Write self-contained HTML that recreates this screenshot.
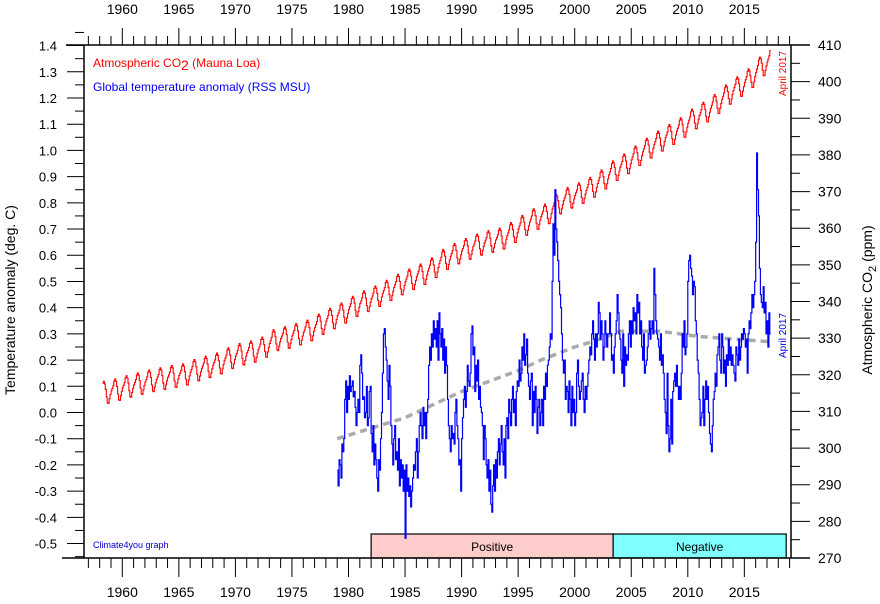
<!DOCTYPE html>
<html><head><meta charset="utf-8"><style>
body{margin:0;background:#fff;}
svg{display:block;font-family:"Liberation Sans",sans-serif;}
</style></head><body>
<svg id="chart" width="880" height="604" viewBox="0 0 880 604" xmlns="http://www.w3.org/2000/svg">
<rect width="880" height="604" fill="#fff"/>
<g id="periods"></g>
<g id="axes"></g>
<g id="series"></g>
<text x="93" y="67" font-size="12" fill="#ff0000">Atmospheric CO<tspan font-size="14" dy="3">2</tspan><tspan dy="-3"> (Mauna Loa)</tspan></text>
<text x="93" y="91" font-size="12" fill="#0000ff">Global temperature anomaly (RSS MSU)</text>
<text x="93" y="548" font-size="9" fill="#0000cc">Climate4you graph</text>
<text transform="translate(786,96) rotate(-90)" font-size="10" fill="#ff0000">April 2017</text>
<text transform="translate(786,358) rotate(-90)" font-size="10" fill="#0000ff">April 2017</text>
<text transform="translate(15,300) rotate(-90)" font-size="14" text-anchor="middle" fill="#000">Temperature anomaly (deg. C)</text>
<text transform="translate(872,300) rotate(-90)" font-size="14" text-anchor="middle" fill="#000">Atmospheric CO<tspan font-size="11" dy="4">2</tspan><tspan dy="-4"> (ppm)</tspan></text>
</svg>
<script>
const co2Years=[1958,1959,1960,1961,1962,1963,1964,1965,1966,1967,1968,1969,1970,1971,1972,1973,1974,1975,1976,1977,1978,1979,1980,1981,1982,1983,1984,1985,1986,1987,1988,1989,1990,1991,1992,1993,1994,1995,1996,1997,1998,1999,2000,2001,2002,2003,2004,2005,2006,2007,2008,2009,2010,2011,2012,2013,2014,2015,2016,2017];
const co2Annual=[315.2,315.97,316.91,317.64,318.45,318.99,319.62,320.04,321.37,322.18,323.05,324.62,325.68,326.32,327.45,329.68,330.18,331.11,332.04,333.83,335.40,336.84,338.75,340.11,341.45,343.05,344.65,346.12,347.42,349.19,351.57,353.12,354.39,355.61,356.45,357.10,358.83,360.82,362.61,363.73,366.70,368.38,369.55,371.14,373.28,375.80,377.52,379.80,381.90,383.79,385.60,387.43,389.90,391.65,393.85,396.52,398.65,400.83,404.24,406.55];
const co2Seasonal=[0.0,0.6,1.3,2.5,3.0,2.3,0.8,-1.3,-3.0,-3.2,-2.0,-0.9];
const tempStartYear=1979;
const tempMonthly=[
-0.22,-0.28,-0.18,-0.20,-0.25,-0.12,-0.15,-0.10,0.05,0.12,0.00,0.10,
0.05,0.14,0.08,0.10,0.12,0.06,0.08,0.02,-0.05,0.00,0.05,0.00,
0.18,0.22,0.15,0.05,0.06,-0.02,0.00,0.10,-0.05,-0.02,0.08,0.10,
-0.08,-0.15,-0.05,-0.20,-0.12,-0.18,-0.25,-0.30,-0.18,-0.22,-0.10,0.00,
0.15,0.30,0.32,0.25,0.20,0.12,0.05,0.18,0.10,-0.05,-0.12,-0.20,
-0.10,-0.05,-0.18,-0.15,-0.22,-0.10,-0.28,-0.18,-0.25,-0.20,-0.30,-0.22,
-0.48,-0.20,-0.30,-0.25,-0.32,-0.28,-0.36,-0.30,-0.25,-0.20,-0.22,-0.15,
-0.10,-0.25,-0.15,-0.05,0.00,-0.05,-0.10,0.02,-0.05,0.00,-0.10,0.00,
0.05,0.18,0.25,0.20,0.30,0.25,0.35,0.28,0.32,0.25,0.35,0.20,
0.38,0.30,0.25,0.32,0.20,0.28,0.15,0.25,0.18,0.05,-0.05,-0.10,
-0.15,-0.05,-0.10,-0.08,-0.12,0.00,0.05,-0.05,-0.10,-0.20,-0.18,-0.30,
-0.10,-0.02,0.05,0.10,0.02,0.08,0.18,0.12,0.10,0.15,0.30,0.33,
0.22,0.25,0.08,0.18,0.12,0.20,0.05,0.10,0.02,0.00,-0.05,-0.18,
-0.05,-0.10,-0.20,-0.25,-0.18,-0.30,-0.22,-0.35,-0.38,-0.28,-0.20,-0.30,
-0.18,-0.25,-0.15,-0.10,-0.20,-0.12,-0.05,-0.15,-0.20,-0.10,-0.25,-0.05,
-0.02,-0.10,0.05,0.00,-0.05,0.05,0.10,0.00,0.05,-0.05,0.08,0.12,
0.10,0.20,0.12,0.15,0.25,0.20,0.30,0.18,0.22,0.28,0.15,0.10,
0.05,0.12,0.15,-0.05,0.08,0.00,0.10,0.05,-0.08,0.02,0.05,-0.05,
0.00,0.05,-0.05,0.10,0.05,0.15,0.10,0.18,0.20,0.25,0.30,0.28,
0.50,0.72,0.60,0.85,0.70,0.65,0.58,0.50,0.45,0.40,0.30,0.20,
0.15,0.20,0.05,0.10,0.08,0.00,0.12,0.05,-0.05,0.10,0.00,0.05,
-0.05,0.00,0.15,0.20,0.10,0.05,0.08,0.12,0.15,0.05,0.00,0.10,
0.05,0.10,0.15,0.20,0.25,0.22,0.30,0.35,0.28,0.20,0.30,0.25,
0.30,0.42,0.38,0.28,0.35,0.30,0.20,0.25,0.35,0.30,0.25,0.30,
0.30,0.38,0.30,0.20,0.22,0.15,0.25,0.30,0.35,0.45,0.38,0.30,
0.28,0.20,0.15,0.30,0.10,0.25,0.18,0.22,0.20,0.30,0.35,0.25,
0.35,0.30,0.40,0.35,0.38,0.30,0.45,0.38,0.42,0.30,0.35,0.25,
0.20,0.30,0.15,0.18,0.20,0.25,0.30,0.35,0.28,0.32,0.35,0.30,
0.55,0.45,0.35,0.30,0.28,0.25,0.20,0.30,0.18,0.22,0.15,0.05,
0.00,-0.08,0.15,-0.05,-0.15,-0.10,0.05,-0.12,0.08,0.12,0.15,0.10,
0.18,0.10,0.05,0.10,0.05,0.15,0.30,0.25,0.35,0.22,0.25,0.30,
0.50,0.58,0.60,0.55,0.52,0.45,0.50,0.48,0.35,0.30,0.20,0.15,
0.05,-0.05,-0.02,0.00,0.10,-0.05,0.05,0.12,0.05,0.10,0.00,-0.08,
-0.12,-0.15,-0.05,0.05,0.08,0.15,0.10,0.22,0.25,0.30,0.20,0.15,
0.30,0.25,0.15,0.20,0.10,0.22,0.18,0.28,0.20,0.25,0.18,0.22,
0.18,0.15,0.12,0.25,0.22,0.18,0.28,0.20,0.25,0.30,0.28,0.32,
0.30,0.25,0.28,0.15,0.30,0.35,0.32,0.38,0.45,0.40,0.45,0.50,
0.65,0.99,0.85,0.75,0.55,0.45,0.42,0.40,0.48,0.38,0.42,0.30,
0.35,0.25,0.38,0.30];
const trendYears=[1979,1985,1990,1995,1997,2000,2002.3,2004,2007.5,2011,2017.3];
const trendValues=[-0.10,-0.02,0.08,0.16,0.20,0.25,0.28,0.31,0.31,0.29,0.27];
const periodNames=["Positive","Negative"];
const periodStart=[1982,2003.4];
const periodEnd=[2003.4,2018.7];
const periodColors=["#ffcccc","#80ffff"];
const yearTicks=[1960,1965,1970,1975,1980,1985,1990,1995,2000,2005,2010,2015];
const tempTicks=[1.4,1.3,1.2,1.1,1.0,0.9,0.8,0.7,0.6,0.5,0.4,0.3,0.2,0.1,0.0,-0.1,-0.2,-0.3,-0.4,-0.5];
const co2Ticks=[410,400,390,380,370,360,350,340,330,320,310,300,290,280,270];

const L=84,R=791,T=45,B=558;
const xs=y=>122.3+(y-1960)*11.31;
const yt=v=>412.5-v*262.1;
const yc=p=>45+(410-p)*3.6643;
const NS="http://www.w3.org/2000/svg";
function mk(tag,attrs,parent){const e=document.createElementNS(NS,tag);for(const k in attrs)e.setAttribute(k,attrs[k]);parent.appendChild(e);return e;}
const ax=document.getElementById('axes'),se=document.getElementById('series'),pe=document.getElementById('periods');

periodNames.forEach((n,i)=>{
  const r=mk('rect',{x:xs(periodStart[i]),y:534,width:xs(periodEnd[i])-xs(periodStart[i]),height:24,fill:periodColors[i],stroke:'#000','stroke-width':1.2},pe);
  
  
  const t=mk('text',{x:(xs(periodStart[i])+xs(periodEnd[i]))/2,y:551,'font-size':12,'text-anchor':'middle',fill:'#000'},pe);
  t.textContent=n;
  
  
});

mk('line',{x1:L,y1:T,x2:L,y2:B,stroke:'#000','stroke-width':1.5},ax);
mk('line',{x1:R,y1:T,x2:R,y2:B,stroke:'#000','stroke-width':1.5},ax);
mk('line',{x1:66,y1:T,x2:810,y2:T,stroke:'#000','stroke-width':1.5},ax);
mk('line',{x1:62,y1:B,x2:810,y2:B,stroke:'#000','stroke-width':1.5},ax);
for(let y=1957;y<=2019;y++){
  const x=xs(y);const maj=y%5===0;
  mk('line',{x1:x,y1:B,x2:x,y2:maj?577:568,stroke:'#000','stroke-width':1},ax);
  mk('line',{x1:x,y1:T,x2:x,y2:maj?28:36,stroke:'#000','stroke-width':1},ax);
}
yearTicks.forEach(y=>{
  const a=mk('text',{x:xs(y),y:597,'font-size':14,'text-anchor':'middle'},ax);a.textContent=y;
  
  
  const b=mk('text',{x:xs(y),y:14,'font-size':14,'text-anchor':'middle'},ax);b.textContent=y;
  
  
});
tempTicks.forEach(v=>{
  mk('line',{x1:67,y1:yt(v),x2:L,y2:yt(v),stroke:'#000','stroke-width':1},ax);
  mk('line',{x1:75,y1:yt(v+0.05),x2:L,y2:yt(v+0.05),stroke:'#000','stroke-width':1},ax);
  const t=mk('text',{x:57,y:yt(v)+5,'font-size':13,'text-anchor':'end'},ax);t.textContent=v.toFixed(1);
  
  
});
mk('line',{x1:75,y1:yt(-0.55),x2:L,y2:yt(-0.55),stroke:'#000','stroke-width':1},ax);
co2Ticks.forEach(v=>{
  mk('line',{x1:R,y1:yc(v),x2:810,y2:yc(v),stroke:'#000','stroke-width':1},ax);
  if(v>270)mk('line',{x1:R,y1:yc(v-5),x2:800,y2:yc(v-5),stroke:'#000','stroke-width':1},ax);
  const t=mk('text',{x:818,y:yc(v)+5,'font-size':14},ax);t.textContent=v;
  
  
});

let d='';
co2Years.forEach((yr,i)=>{
  for(let m=0;m<12;m++){
    const t=yr+m/12;
    if(t<1958.2||t>2017.3)continue;
    const nxt=i<co2Annual.length-1?co2Annual[i+1]:co2Annual[i]+2.2;
    const f=m/12-0.5;
    const base=co2Annual[i]+(f>0?(nxt-co2Annual[i])*f:(i>0?(co2Annual[i]-co2Annual[i-1])*f:0));
    const x=xs(t),y=yc(base+co2Seasonal[m]);
    d+=(d?'L':'M')+x.toFixed(1)+' '+y.toFixed(1)+'H'+(x+11.31/12).toFixed(1);
  }
});
const co2=mk('path',{d:d,fill:'none',stroke:'#ff0000','stroke-width':1.1},se);



let td='';
trendYears.forEach((y,i)=>{td+=(i?'L':'M')+xs(y).toFixed(1)+' '+yt(trendValues[i]).toFixed(1);});
const tr=mk('path',{d:td,fill:'none',stroke:'#aaaaaa','stroke-width':3.5,'stroke-dasharray':'7 5'},se);



let pd='';
tempMonthly.forEach((v,i)=>{
  const x=xs(tempStartYear+i/12),y=yt(v);
  pd+=(pd?'L':'M')+x.toFixed(1)+' '+y.toFixed(1)+'H'+(x+11.31/12).toFixed(1);
});
const tl=mk('path',{d:pd,fill:'none',stroke:'#0000ff','stroke-width':1.2},se);


</script>
</body></html>
